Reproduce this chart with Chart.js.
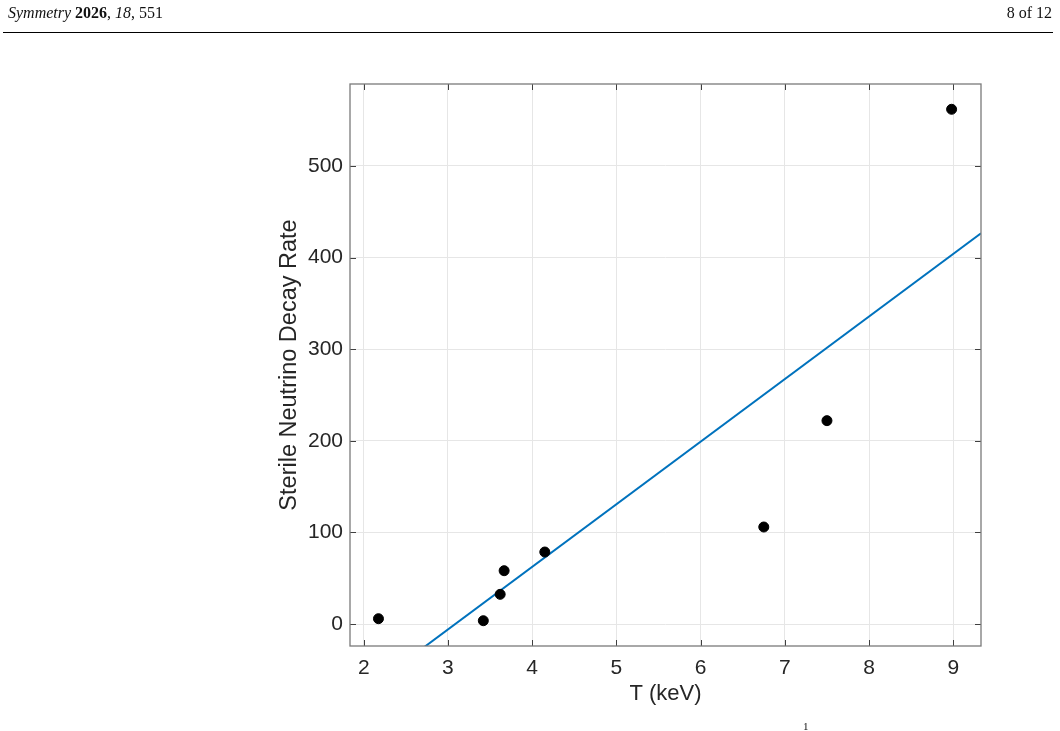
<!DOCTYPE html>
<html>
<head>
<meta charset="utf-8">
<script src="https://cdn.jsdelivr.net/npm/chart.js@4.4.1/dist/chart.umd.min.js"></script>
<style>
  html, body { margin: 0; padding: 0; background: #fff; }
  #wrap { position: relative; width: 1060px; height: 731px; overflow: hidden; }
  #c { position: absolute; left: 0; top: 0; }
  .hdr { position: absolute; top: 4px; font-family: "Liberation Serif", "DejaVu Serif", serif; font-size: 16px; color: #111; white-space: nowrap; }
  #hl { left: 8px; }
  #hr { right: 8px; }
  #rule { position: absolute; left: 3px; width: 1050px; top: 32px; height: 1px; background: #000; }
  #foot { position: absolute; left: 803px; top: 720px; font-family: "Liberation Serif", serif; font-size: 11px; color: #111; }
</style>
</head>
<body>
<div id="wrap">
  <canvas id="c" width="1060" height="731"></canvas>
  <div class="hdr" id="hl"><i>Symmetry</i> <b>2026</b>, <i>18</i>, 551</div>
  <div class="hdr" id="hr">8 of 12</div>
  <div id="rule"></div>
  <div id="foot">1</div>
</div>
<script>
// ---- data ----
const temperatureKeV = [2.175, 3.42, 3.62, 3.667, 4.15, 6.75, 7.5, 8.98];
const decayRate      = [5.8, 3.6, 32.4, 58.2, 78.6, 105.9, 222, 561.9];
const fitT    = [1.837, 9.329];
const fitRate = [-85.4, 426.5];
const xTicks = [2, 3, 4, 5, 6, 7, 8, 9];
const yTicks = [0, 100, 200, 300, 400, 500];
const xLabel = 'T (keV)';
const yLabel = 'Sterile Neutrino Decay Rate';

const points = temperatureKeV.map((t, i) => ({ x: t, y: decayRate[i] }));
const fitLine = fitT.map((t, i) => ({ x: t, y: fitRate[i] }));

const FONT = '"Liberation Sans", Arial, Helvetica, sans-serif';
const TICK_COLOR = '#262626';
const FRAME = '#7a7a7a';

const frameAndTicks = {
  id: 'frameAndTicks',
  afterDatasetsDraw(chart) {
    const { ctx, chartArea: a, scales } = chart;
    const xs = scales.x, ys = scales.y;
    ctx.save();
    // inward tick marks on all four sides
    ctx.strokeStyle = '#404040';
    ctx.lineWidth = 1;
    const L = 6;
    ctx.beginPath();
    xTicks.forEach(v => {
      const px = Math.round(xs.getPixelForValue(v)) + 0.5;
      ctx.moveTo(px, a.bottom); ctx.lineTo(px, a.bottom - L);
      ctx.moveTo(px, a.top); ctx.lineTo(px, a.top + L);
    });
    yTicks.forEach(v => {
      const py = Math.round(ys.getPixelForValue(v)) + 0.5;
      ctx.moveTo(a.left, py); ctx.lineTo(a.left + L, py);
      ctx.moveTo(a.right, py); ctx.lineTo(a.right - L, py);
    });
    ctx.stroke();
    // frame
    ctx.strokeStyle = FRAME;
    ctx.lineWidth = 1.3;
    ctx.strokeRect(a.left, a.top, a.right - a.left, a.bottom - a.top);
    // axis titles
    ctx.fillStyle = TICK_COLOR;
    ctx.textAlign = 'center';
    ctx.textBaseline = 'middle';
    ctx.font = '22px ' + FONT;
    ctx.fillText(xLabel, (a.left + a.right) / 2, 694);
    ctx.font = '23.5px ' + FONT;
    ctx.translate(290, (a.top + a.bottom) / 2);
    ctx.rotate(-Math.PI / 2);
    ctx.fillText(yLabel, 0, 0);
    ctx.restore();
  }
};

new Chart(document.getElementById('c'), {
  data: {
    datasets: [
      {
        type: 'line',
        label: 'fit',
        data: fitLine,
        borderColor: '#0072BD',
        borderWidth: 2,
        pointRadius: 0,
        fill: false,
        tension: 0,
        order: 2
      },
      {
        type: 'scatter',
        label: 'data',
        data: points,
        backgroundColor: '#000',
        borderColor: '#000',
        pointRadius: 5,
        pointHoverRadius: 5,
        order: 1
      }
    ]
  },
  options: {
    responsive: false,
    animation: false,
    events: [],
    layout: { padding: { left: 0, top: 84, right: 79, bottom: 0 } },
    plugins: { legend: { display: false }, tooltip: { enabled: false } },
    scales: {
      x: {
        type: 'linear',
        min: 1.837, max: 9.329,
        afterBuildTicks: s => { s.ticks = xTicks.map(v => ({ value: v })); },
        afterFit: s => { s.height = 85; },
        grid: { color: '#e6e6e6', lineWidth: 1, drawTicks: false },
        border: { display: false },
        ticks: { color: TICK_COLOR, font: { family: FONT, size: 21 }, padding: 10, maxRotation: 0, autoSkip: false }
      },
      y: {
        type: 'linear',
        min: -24, max: 589.5,
        afterBuildTicks: s => { s.ticks = yTicks.map(v => ({ value: v })); },
        afterFit: s => { s.width = 350; },
        grid: { color: '#e6e6e6', lineWidth: 1, drawTicks: false },
        border: { display: false },
        ticks: { color: TICK_COLOR, font: { family: FONT, size: 21 }, padding: 7, autoSkip: false }
      }
    }
  },
  plugins: [frameAndTicks]
});
</script>
</body>
</html>
